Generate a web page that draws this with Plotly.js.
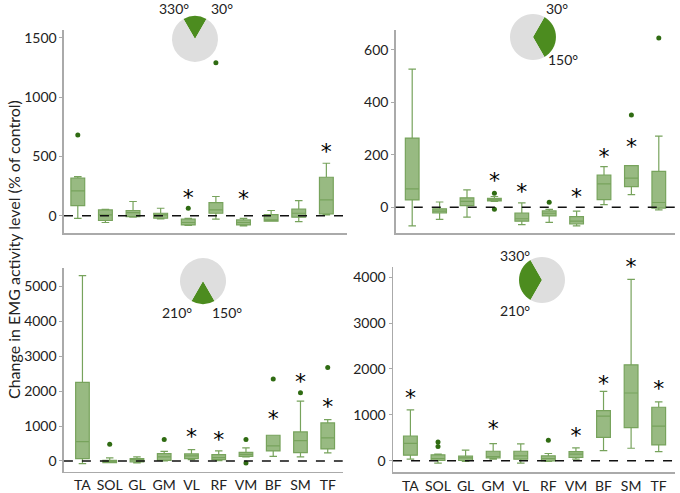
<!DOCTYPE html>
<html>
<head>
<meta charset="utf-8">
<script src="https://cdn.plot.ly/plotly-3.0.1.min.js"></script>
<style>
  body { margin: 0; background: #fff; }
  #emgChart { width: 680px; height: 493px; }
</style>
</head>
<body>
<div id="emgChart"></div>
<script>
// muscles on the x axis
var muscles = ["TA", "SOL", "GL", "GM", "VL", "RF", "VM", "BF", "SM", "TF"];

// panel A : 330-30 deg
var lowA    = [-22, -56, -11, -25, -81, -28, -84, -45, -48, 8];
var q1A     = [87, -39, -6, -20, -76, 22, -76, -45, -11, 17];
var medA    = [210, 8, 28, 8, -56, 50, -56, -34, 22, 135];
var q3A     = [317, 50, 45, 22, -28, 112, -34, 11, 56, 325];
var highA   = [331, 55, 121, 64, -20, 163, -22, 45, 129, 443];
var outXA   = ["TA", "VL", "RF"];
var outYA   = [681, 64, 1290];
var starXA  = ["VL", "VM", "TF"];
var starYA  = [140, 126, 527];

// panel B : 30-150 deg
var lowB    = [-71, -46, -38, 22, -66, -58, -71, 10, 48, -10];
var q1B     = [28, -22, 6, 24, -53, -33, -64, 29, 79, -3];
var medB    = [70, -15, 22, 29, -44, -23, -53, 89, 111, 18];
var q3B     = [264, -6, 36, 34, -22, -14, -36, 123, 159, 137];
var highB   = [527, 20, 66, 41, 17, -8, -15, 155, 159, 271];
var outXB   = ["GM", "GM", "RF", "SM", "TF"];
var outYB   = [53, -8, 19, 352, 646];
var starXB  = ["GM", "VL", "VM", "BF", "SM"];
var starYB  = [96, 52, 32, 187, 223];

// panel C : 150-210 deg
var lowC    = [-77, -48, -57, 0, 38, 10, 115, 134, 115, 230];
var q1C     = [67, -48, -29, 19, 67, 38, 134, 287, 239, 345];
var medC    = [556, -19, 29, 115, 144, 96, 192, 431, 584, 661];
var q3C     = [2251, 19, 67, 211, 201, 182, 249, 738, 833, 1092];
var highC   = [5316, 86, 115, 278, 326, 287, 374, 738, 1715, 1188];
var outXC   = ["SOL", "GM", "VM", "VM", "BF", "SM", "TF"];
var outYC   = [479, 613, 613, -57, 2347, 1954, 2682];
var starXC  = ["VL", "RF", "BF", "SM", "TF"];
var starYC  = [640, 563, 1167, 2220, 1502];

// panel D : 210-330 deg
var lowD    = [36, -50, -14, 36, -50, -14, 36, 223, 274, 202];
var q1D     = [123, 7, 7, 65, 36, 0, 72, 512, 721, 346];
var medD    = [382, 50, 65, 94, 108, 50, 144, 973, 1477, 757];
var q3D     = [541, 130, 101, 209, 209, 108, 202, 1095, 2090, 1167];
var highD   = [1110, 144, 231, 375, 368, 159, 281, 1513, 3949, 1283];
var outXD   = ["SOL", "SOL", "RF"];
var outYD   = [411, 310, 447];
var starXD  = ["TA", "GM", "VM", "BF", "SM", "TF"];
var starYD  = [1330, 650, 505, 1640, 4190, 1535];

// pie insets: start angle of the green sector and its size
var pieStart = [330, 30, 150, 210];
var pieSpan  = [60, 120, 60, 120];
var pieLabels = [["330°", "30°"], ["30°", "150°"], ["210°", "150°"], ["330°", "210°"]];

var boxLine  = "#77a35c";
var boxFill  = "rgba(118,163,88,0.75)";
var dotColor = "#2f6b12";
var fontFam  = "Lato, 'Open Sans', sans-serif";

function boxTrace(low, q1, med, q3, high, xa, ya) {
  return {
    type: "box",
    x: muscles,
    lowerfence: low,
    q1: q1,
    median: med,
    q3: q3,
    upperfence: high,
    width: 0.5,
    whiskerwidth: 0.55,
    boxpoints: false,
    fillcolor: boxFill,
    line: { color: boxLine, width: 1.2 },
    xaxis: xa,
    yaxis: ya,
    hoverinfo: "skip"
  };
}

function outlierTrace(xs, ys, xa, ya) {
  return {
    type: "scatter",
    mode: "markers",
    x: xs,
    y: ys,
    marker: { color: dotColor, size: 5 },
    xaxis: xa,
    yaxis: ya,
    cliponaxis: false,
    hoverinfo: "skip"
  };
}

function starTrace(xs, ys, xa, ya) {
  return {
    type: "scatter",
    mode: "text",
    x: xs,
    y: ys,
    text: xs.map(function () { return "*"; }),
    textposition: "middle center",
    textfont: { size: 22, color: "#000000", family: "DejaVu Sans" },
    xaxis: xa,
    yaxis: ya,
    cliponaxis: false,
    hoverinfo: "skip"
  };
}

function pieTrace(i, dx, dy) {
  return {
    type: "pie",
    values: [pieSpan[i], 360 - pieSpan[i]],
    rotation: pieStart[i],
    direction: "clockwise",
    sort: false,
    textinfo: "none",
    hoverinfo: "skip",
    marker: { colors: ["#4c8c1f", "#dedede"], line: { width: 0 } },
    domain: { x: dx, y: dy },
    showlegend: false
  };
}

var data = [
  boxTrace(lowA, q1A, medA, q3A, highA, "x", "y"),
  boxTrace(lowB, q1B, medB, q3B, highB, "x2", "y2"),
  boxTrace(lowC, q1C, medC, q3C, highC, "x3", "y3"),
  boxTrace(lowD, q1D, medD, q3D, highD, "x4", "y4"),
  outlierTrace(outXA, outYA, "x", "y"),
  outlierTrace(outXB, outYB, "x2", "y2"),
  outlierTrace(outXC, outYC, "x3", "y3"),
  outlierTrace(outXD, outYD, "x4", "y4"),
  starTrace(starXA, starYA, "x", "y"),
  starTrace(starXB, starYB, "x2", "y2"),
  starTrace(starXC, starYC, "x3", "y3"),
  starTrace(starXD, starYD, "x4", "y4"),
  pieTrace(0, [0.2529, 0.3206], [0.8742, 0.9675]),
  pieTrace(1, [0.7500, 0.8176], [0.8783, 0.9716]),
  pieTrace(2, [0.2647, 0.3324], [0.3834, 0.4767]),
  pieTrace(3, [0.7632, 0.8309], [0.3854, 0.4787])
];

function xAxis(dom, rng, anchor, labels) {
  return {
    domain: dom,
    range: rng,
    anchor: anchor,
    type: "category",
    showline: true,
    linecolor: "#aaaaaa",
    linewidth: 1.5,
    showgrid: false,
    zeroline: false,
    ticks: "",
    showticklabels: labels,
    tickfont: { size: 14, color: "#222", family: fontFam }
  };
}

function yAxis(dom, rng, anchor, dtick) {
  return {
    domain: dom,
    range: rng,
    anchor: anchor,
    dtick: dtick,
    showline: true,
    linecolor: "#aaaaaa",
    linewidth: 1.5,
    showgrid: false,
    zeroline: false,
    ticks: "outside",
    ticklen: 3,
    tickcolor: "#aaaaaa",
    tickfont: { size: 14, color: "#222", family: fontFam }
  };
}

// dashed zero line for each panel
var shapes = ["", "2", "3", "4"].map(function (n) {
  return {
    type: "line",
    xref: "x" + n + " domain",
    yref: "y" + n,
    x0: 0, x1: 1, y0: 0, y1: 0,
    line: { color: "#111", width: 1.5, dash: "dash" }
  };
});

// angle labels next to the pies, paper coords (pixel centres)
var labelPos = [
  [[174, 9], [222, 9]],
  [[557, 9], [563, 60]],
  [[177, 312], [227, 312]],
  [[515, 255], [515, 310]]
];
var annotations = [];
labelPos.forEach(function (pair, i) {
  pair.forEach(function (p, j) {
    annotations.push({
      xref: "paper", yref: "paper",
      x: p[0] / 680, y: 1 - p[1] / 493,
      xanchor: "center", yanchor: "middle",
      text: pieLabels[i][j],
      showarrow: false,
      font: { size: 14, color: "#222", family: fontFam }
    });
  });
});
annotations.push({
  xref: "paper", yref: "paper",
  x: 13 / 680, y: 1 - 250 / 493,
  xanchor: "center", yanchor: "middle",
  text: "Change in EMG activity level (% of control)",
  textangle: -90,
  showarrow: false,
  font: { size: 16, color: "#222", family: fontFam }
});

var layout = {
  width: 680,
  height: 493,
  margin: { l: 0, r: 0, t: 0, b: 0 },
  paper_bgcolor: "#ffffff",
  plot_bgcolor: "#ffffff",
  showlegend: false,
  font: { family: fontFam, color: "#222" },
  xaxis:  xAxis([0.0941, 0.510], [-0.5, 9.74], "y", false),
  yaxis:  yAxis([0.527, 0.939], [-146, 1565], "x", 500),
  xaxis2: xAxis([0.582, 0.993], [-0.6, 9.6], "y2", false),
  yaxis2: yAxis([0.527, 0.939], [-99, 676], "x2", 200),
  xaxis3: xAxis([0.094, 0.504], [-0.68, 9.55], "y3", true),
  yaxis3: yAxis([0.0426, 0.456], [-316, 5527], "x3", 1000),
  xaxis4: xAxis([0.578, 0.993], [-0.63, 9.6], "y4", true),
  yaxis4: yAxis([0.0418, 0.458], [-252, 4216], "x4", 1000),
  shapes: shapes,
  annotations: annotations
};

Plotly.newPlot("emgChart", data, layout, { staticPlot: true });
</script>
</body>
</html>
